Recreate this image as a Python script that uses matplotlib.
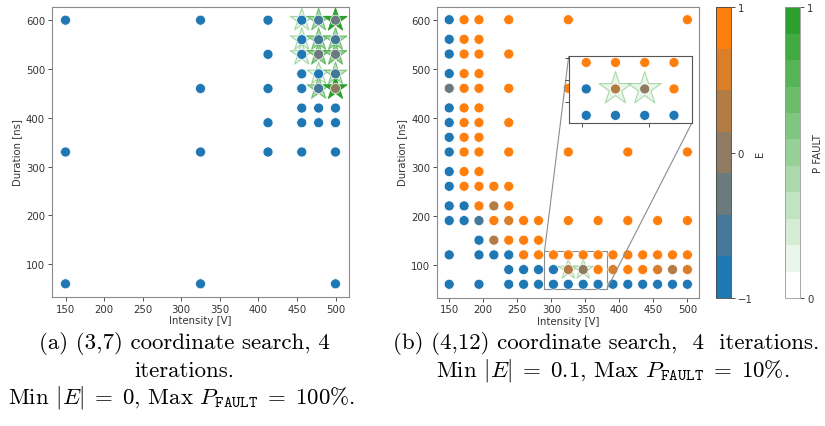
import numpy as np
import matplotlib
matplotlib.use("Agg")
import matplotlib.pyplot as plt
from matplotlib.colors import ListedColormap, Normalize, to_rgb
from matplotlib.cm import ScalarMappable
from mpl_toolkits.axes_grid1.inset_locator import mark_inset

plt.rcParams['mathtext.fontset'] = 'cm'
plt.rcParams['font.family'] = ['DejaVu Sans']

# ---------------- data: panel (a) ----------------
a_intensity = [150, 150, 150,
               325, 325, 325, 325,
               412.5, 412.5, 412.5, 412.5, 412.5,
               456.25, 456.25, 456.25, 456.25, 456.25, 456.25, 456.25, 456.25,
               478.125, 478.125, 478.125, 478.125, 478.125, 478.125, 478.125,
               500, 500, 500, 500, 500, 500, 500, 500, 500]
a_duration = [600, 330, 60,
              600, 460, 330, 60,
              600, 530, 460, 390, 330,
              600, 560, 530, 490, 460, 420, 390, 330,
              600, 560, 530, 490, 460, 420, 390,
              600, 560, 530, 490, 460, 420, 390, 330, 60]
a_E = [-1, -1, -1,
       -1, -1, -1, -1,
       -1, -1, -1, -1, -1,
       -1, -1, -1, -1, -1, -1, -1, -1,
       -0.6, -0.6, -0.3, -1, -0.6, -1, -1,
       -0.3, -0.6, -0.3, -0.6, 0.0, -1, -1, -1, -1]
a_star_intensity = [456.25, 478.125, 500, 456.25, 478.125, 500, 456.25, 478.125, 500,
                    478.125, 500, 478.125, 500]
a_star_duration = [600, 600, 600, 560, 560, 560, 530, 530, 530, 490, 490, 460, 460]
a_star_pfault = [0.15, 0.4, 1.0, 0.15, 0.4, 0.4, 0.15, 0.5, 0.5, 0.15, 0.3, 0.4, 1.0]

# ---------------- data: panel (b) ----------------
b_grid_x = [150, 171.875, 193.75, 215.625, 237.5, 259.375, 281.25, 303.125, 325,
            346.875, 368.75, 390.625, 412.5, 434.375, 456.25, 478.125, 500]
# rows: duration -> list of (grid index, E)
b_rows = {
    600: [(0, -1), (1, 1), (2, 1), (4, 1), (8, 1), (16, 1)],
    560: [(0, -1), (1, 1), (2, 1)],
    530: [(0, -1), (1, 1), (2, 1), (4, 1)],
    490: [(0, -1), (1, 1), (2, 1)],
    460: [(0, -0.3), (1, 1), (2, 1), (4, 1), (8, 1)],
    420: [(0, -1), (1, 1), (2, 1)],
    390: [(0, -1), (1, 1), (2, 1), (4, 1)],
    360: [(0, -1), (1, 1), (2, 1)],
    330: [(0, -1), (1, 1), (2, 1), (4, 1), (8, 1), (12, 1), (16, 1)],
    290: [(0, -1), (1, 1), (2, 1)],
    260: [(0, -1), (1, 1), (2, 1), (3, 1), (4, 1)],
    220: [(0, -1), (1, -1), (2, 1), (3, 0.4), (4, 1)],
    190: [(0, -1), (1, -1), (2, -0.6), (3, 1), (4, 0.6), (5, 1), (6, 1), (8, 1),
          (10, 1), (12, 1), (14, 1), (16, 1)],
    150: [(2, -1), (3, 0.4), (4, 1), (5, 1), (6, 1)],
    120: [(0, -1), (2, -1), (3, -1), (4, -1), (5, 1), (6, 1), (7, 1), (8, 1), (9, 1),
          (10, 1), (11, 1), (12, 1), (13, 1), (14, 1), (15, 1), (16, 1)],
    90: [(4, -1), (5, -1), (6, -1), (7, -1), (8, 0.4), (9, 0.1), (10, 1), (11, 0.6),
         (12, 1), (13, 1), (14, 0.6), (15, 0.4), (16, 0.6)],
    60: [(0, -1), (2, -1), (4, -1), (5, -1), (6, -1), (7, -1), (8, -1), (9, -1), (10, -1),
         (11, -1), (12, -1), (13, -1), (14, -1), (15, -1), (16, -1)],
}
b_intensity = [b_grid_x[k] for d, pts in b_rows.items() for k, e in pts]
b_duration = [d for d, pts in b_rows.items() for k, e in pts]
b_E = [e for d, pts in b_rows.items() for k, e in pts]
b_star_intensity = [325, 346.875]
b_star_duration = [90, 90]
b_star_pfault = [0.1, 0.1]

xticks = [150, 200, 250, 300, 350, 400, 450, 500]
yticks = [100, 200, 300, 400, 500, 600]

# ---------------- colormaps ----------------
blue = np.array(to_rgb('#1f77b4'))
orange = np.array(to_rgb('#ff7f0e'))
green = np.array(to_rgb('#2ca02c'))
white = np.array([1.0, 1.0, 1.0])
cmap_E = ListedColormap([blue + (orange - blue) * i / 6 for i in range(7)])
cmap_P = ListedColormap([white + (green - white) * i / 10 for i in range(11)])
norm_E = Normalize(-1, 1)
norm_P = Normalize(0, 1)

TXT = '#333333'
EDGE = '#8a8a8a'
plt.rcParams.update({
    'axes.edgecolor': EDGE, 'axes.linewidth': 0.8,
    'xtick.color': TXT, 'ytick.color': TXT,
    'xtick.labelsize': 7.3, 'ytick.labelsize': 7.3,
    'axes.labelcolor': TXT, 'axes.labelsize': 7.3,
    'xtick.major.size': 3, 'ytick.major.size': 3,
    'xtick.major.width': 0.6, 'ytick.major.width': 0.6,
})

fig = plt.figure(figsize=(8.25, 4.27), dpi=100)
H = 427.0
W = 825.0


def box(x0, y0, x1, y1):
    return [x0 / W, 1 - y1 / H, (x1 - x0) / W, (y1 - y0) / H]


def draw_stars(ax, xs, ys, ps, s):
    fc = [cmap_P(norm_P(p)) for p in ps]
    ec = [(*green, min(1.0, 0.3 + 0.7 * p)) for p in ps]
    ax.scatter(xs, ys, marker='*', s=s, c=fc, edgecolors=ec, linewidths=0.8, zorder=2)


def draw_points(ax, xs, ys, es):
    ax.scatter(xs, ys, c=es, cmap=cmap_E, norm=norm_E, s=52, edgecolors='white',
               linewidths=0.5, zorder=3)


def style(ax):
    ax.set_xlim(132.5, 517.5)
    ax.set_ylim(33, 627)
    ax.set_xticks(xticks)
    ax.set_yticks(yticks)
    ax.set_xlabel('Intensity [V]', labelpad=1)
    ax.set_ylabel('Duration [ns]', labelpad=3)
    ax.tick_params(pad=2)


# panel (a)
ax1 = fig.add_axes(box(52, 8, 349, 298))
draw_stars(ax1, a_star_intensity, a_star_duration, a_star_pfault, 300)
draw_points(ax1, a_intensity, a_duration, a_E)
style(ax1)

# panel (b)
ax2 = fig.add_axes(box(437.3, 7.5, 699.3, 298.5))
draw_stars(ax2, b_star_intensity, b_star_duration, b_star_pfault, 240)
draw_points(ax2, b_intensity, b_duration, b_E)
style(ax2)

# inset
axin = fig.add_axes(box(568.7, 57.3, 691.7, 124.3))
draw_stars(axin, b_star_intensity, b_star_duration, b_star_pfault, 620)
draw_points(axin, b_intensity, b_duration, b_E)
axin.set_xlim(290, 382)
axin.set_ylim(51, 127)
axin.set_xticks([300, 350])
axin.set_yticks([75, 100, 125])
axin.set_xticklabels([])
axin.set_yticklabels([])
axin.spines[:].set_color('#555555')
mark_inset(ax2, axin, loc1=2, loc2=4, fc='none', ec='0.55', lw=0.8)

# colorbars
caxE = fig.add_axes(box(716, 8.3, 730.7, 299))
cbE = fig.colorbar(ScalarMappable(norm=norm_E, cmap=cmap_E), cax=caxE, ticks=[-1, 0, 1])
cbE.set_label('E', fontsize=7.3, color=TXT, labelpad=2)
cbE.outline.set_edgecolor('#444444')
cbE.outline.set_linewidth(0.6)
caxE.tick_params(labelsize=7.3, pad=2, length=3)

caxP = fig.add_axes(box(785, 8.3, 800, 299))
cbP = fig.colorbar(ScalarMappable(norm=norm_P, cmap=cmap_P), cax=caxP, ticks=[0, 1])
cbP.set_label('P FAULT', fontsize=7.3, color=TXT, labelpad=0)
cbP.outline.set_edgecolor('#999999')
cbP.outline.set_linewidth(0.6)
caxP.tick_params(labelsize=7.3, pad=2, length=3)

# captions
cap = dict(fontsize=16.5, family='cmr10', va='center', color='black')
fig.text(184 / W, 1 - 344 / H, '(a) (3,7) coordinate search, 4', ha='center', **cap)
fig.text(184 / W, 1 - 371 / H, 'iterations.', ha='center', **cap)
fig.text(182 / W, 1 - 398 / H,
         r'Min $|E|\;=\;0$, Max $P_{\mathtt{FAULT}}\;=\;100\%$.', ha='center', **cap)
fig.text(393 / W, 1 - 344 / H, '(b) (4,12) coordinate search,  4  iterations.', ha='left', **cap)
fig.text(613 / W, 1 - 371 / H,
         r'Min $|E|\;=\;0.1$, Max $P_{\mathtt{FAULT}}\;=\;10\%$.', ha='center', **cap)

fig.savefig('out.png', dpi=100)
